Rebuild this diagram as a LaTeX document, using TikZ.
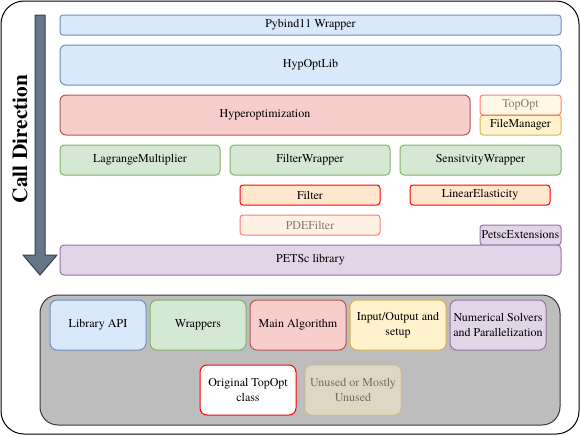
\documentclass[tikz,border=0pt]{standalone}
\usepackage{fontspec}
\setmainfont{TeX Gyre Termes}
\usepackage{tikz}

\definecolor{bluefill}{HTML}{DAE8FC}
\definecolor{bluedraw}{HTML}{6C8EBF}
\definecolor{redfill}{HTML}{F8CECC}
\definecolor{reddraw}{HTML}{B85450}
\definecolor{greenfill}{HTML}{D5E8D4}
\definecolor{greendraw}{HTML}{82B366}
\definecolor{yellowfill}{HTML}{FFF2CC}
\definecolor{yellowdraw}{HTML}{D6B656}
\definecolor{purplefill}{HTML}{E1D5E7}
\definecolor{purpledraw}{HTML}{9673A6}
\definecolor{orangefill}{HTML}{FFE6CC}
\definecolor{arrowfill}{HTML}{647687}
\definecolor{arrowdraw}{HTML}{314354}
\definecolor{legendfill}{HTML}{BDBDBD}
\definecolor{legenddraw}{HTML}{36393D}

\newdimen\px \px=0.75pt

\tikzset{
  blk/.style={draw, line width=1\px, rounded corners=3\px, anchor=north west,
    outer sep=0pt, inner sep=1\px, align=center, font=\fontsize{9}{11.2}\selectfont},
  bluebox/.style={blk, fill=bluefill, draw=bluedraw},
  redbox/.style={blk, fill=redfill, draw=reddraw},
  greenbox/.style={blk, fill=greenfill, draw=greendraw},
  yellowbox/.style={blk, fill=yellowfill, draw=yellowdraw},
  purplebox/.style={blk, fill=purplefill, draw=purpledraw},
  orangebox/.style={blk, fill=orangefill, draw=red},
  faded/.style={fill opacity=0.5, draw opacity=0.5, text opacity=0.5},
  keybox/.style={rounded corners=7\px, minimum width=96\px, minimum height=50\px},
}

\begin{document}
\begin{tikzpicture}[x=0.75pt, y=-0.75pt]
	\useasboundingbox (0,0) rectangle (581,436);
	
	% frame
	\draw [line width=1\px, rounded corners=23\px] (1,1) rectangle (579,434);
	
	% call direction
	\draw [line width=1\px, draw=arrowdraw, fill=arrowfill] (35,15) -- (45,15) -- (45,255) -- (57,255) -- (40,275) -- (23,255) -- (35,255) -- cycle;
	\node [rotate=90, font=\fontsize{16}{16}\selectfont\bfseries] (calldir) at (20,139) {Call Direction};
	
	% layers
	\node [bluebox, minimum width=501\px, minimum height=20\px] (pybind) at (60,15) {Pybind11 Wrapper};
	\node [bluebox, rounded corners=6\px, minimum width=501\px, minimum height=40\px] (hypoptlib) at (60,45) {HypOptLib};
	\node [redbox, rounded corners=6\px, minimum width=410\px, minimum height=40\px] (hyperopt) at (60,95) {Hyperoptimization};
	\node [yellowbox, minimum width=81\px, minimum height=20\px] (filemanager) at (480,115) {FileManager};
	\node [blk, faded, fill=yellowfill, draw=red, minimum width=81\px, minimum height=20\px] (topopt) at (480,95) {TopOpt};
	
	\node [greenbox, rounded corners=4\px, minimum width=160\px, minimum height=30\px] (lagrange) at (60,145) {LagrangeMultiplier};
	\node [greenbox, rounded corners=4\px, minimum width=160\px, minimum height=30\px] (filterwrap) at (230,145) {FilterWrapper};
	\node [greenbox, rounded corners=4\px, minimum width=161\px, minimum height=30\px] (sensewrap) at (400,145) {SensitvityWrapper};
	
	\node [orangebox, minimum width=140\px, minimum height=20\px] (filter) at (240,185) {Filter};
	\node [orangebox, minimum width=140\px, minimum height=20\px] (linelast) at (410,185) {LinearElasticity};
	\node [blk, faded, fill=orangefill, draw=red, minimum width=140\px, minimum height=20\px] (pdefilter) at (240,215) {PDEFilter};
	
	\node [purplebox, inner sep=0pt, minimum width=81\px, minimum height=20\px] (petscext) at (480,225) {PetscExtensions};
	\node [purplebox, rounded corners=4\px, minimum width=501\px, minimum height=30\px] (petsc) at (60,245) {PETSc library};
	
	% legend
	\draw [line width=1\px, draw=legenddraw, fill=legendfill, rounded corners=18\px] (40,295) rectangle (560,425);
	\node [bluebox, keybox] (keyapi) at (50,300) {Library API};
	\node [greenbox, keybox] (keywrap) at (150,300) {Wrappers};
	\node [redbox, keybox] (keyalgo) at (250,300) {Main Algorithm};
	\node [yellowbox, keybox] (keyio) at (350,300) {Input/Output and\\setup};
	\node [purplebox, keybox] (keynum) at (450,300) {Numerical Solvers\\and Parallelization};
	\node [blk, keybox, fill=white, draw=red] (keyorig) at (200,365) {Original TopOpt\\class};
	\node [yellowbox, keybox, faded] (keyunused) at (305,365) {Unused or Mostly\\Unused};
	
\end{tikzpicture}
\end{document}
